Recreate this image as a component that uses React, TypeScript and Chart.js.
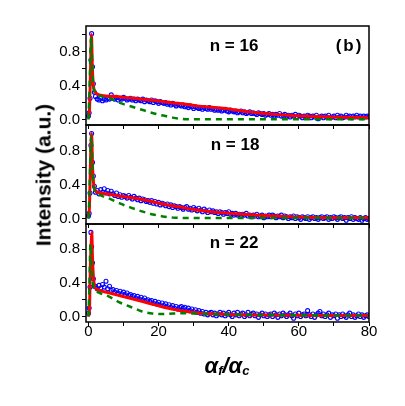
import React, { useEffect, useRef } from 'react';
import { Chart, registerables } from 'chart.js';

Chart.register(...registerables);

const FONT = '"Liberation Sans", Arial, Helvetica, sans-serif';

// ---- axes ----
const X_MIN = -0.7;
const X_MAX = 80;
const Y_MIN = -0.065;
const Y_MAX = 1.1;
const xTickValues = [0, 10, 20, 30, 40, 50, 60, 70, 80];
const xLabeledTicks = [0, 20, 40, 60, 80];
const yTickValues = [0, 0.2, 0.4, 0.6, 0.8, 1.0];
const yLabeledTicks = [0, 0.4, 0.8];

// ---- measured points (blue circles) ----
// x positions of the points around the specular peak
const peakX = [0, 0.2, 0.45, 0.7, 0.9, 1.15, 1.4, 1.7];
// the rest are sampled every 0.5 from x = 2 to x = 80
const TAIL_START = 2;
const TAIL_STEP = 0.5;

const blue16Peak = [0.04, 0.08, 0.25, 0.7, 1.01, 0.62, 0.42, 0.32];
const blue16Tail = [
  0.27, 0.24, 0.23, 0.25, 0.22, 0.24, 0.23, 0.25, 0.24, 0.29,
  0.25, 0.24, 0.26, 0.23, 0.25, 0.24, 0.26, 0.25, 0.23, 0.24,
  0.25, 0.23, 0.24, 0.22, 0.24, 0.23, 0.22, 0.24, 0.21, 0.23,
  0.22, 0.21, 0.23, 0.20, 0.22, 0.21, 0.19, 0.21, 0.20, 0.19,
  0.20, 0.18, 0.19, 0.17, 0.19, 0.18, 0.16, 0.18, 0.17, 0.16,
  0.17, 0.15, 0.16, 0.14, 0.16, 0.15, 0.13, 0.15, 0.14, 0.13,
  0.14, 0.12, 0.14, 0.13, 0.12, 0.14, 0.12, 0.13, 0.11, 0.12,
  0.11, 0.12, 0.10, 0.11, 0.12, 0.10, 0.09, 0.11, 0.10, 0.09,
  0.10, 0.08, 0.09, 0.10, 0.08, 0.09, 0.07, 0.08, 0.09, 0.07,
  0.08, 0.07, 0.06, 0.08, 0.07, 0.06, 0.07, 0.05, 0.06, 0.07,
  0.05, 0.06, 0.04, 0.06, 0.05, 0.07, 0.04, 0.05, 0.06, 0.04,
  0.05, 0.03, 0.05, 0.04, 0.06, 0.03, 0.05, 0.04, 0.02, 0.04,
  0.03, 0.05, 0.04, 0.02, 0.04, 0.03, 0.05, 0.01, 0.03, 0.04,
  0.02, 0.04, 0.03, 0.05, 0.02, 0.03, 0.04, 0.02, 0.05, 0.03,
  0.04, 0.02, 0.03, 0.05, 0.03, 0.04, 0.02, 0.04, 0.03, 0.05,
  0.03, 0.04, 0.02, 0.04, 0.03, 0.04, 0.03,
];

const blue18Peak = [0.03, 0.06, 0.3, 0.86, 1.0, 0.66, 0.5, 0.38];
const blue18Tail = [
  0.31, 0.33, 0.29, 0.34, 0.31, 0.35, 0.30, 0.33, 0.29, 0.32,
  0.29, 0.27, 0.30, 0.26, 0.28, 0.25, 0.27, 0.26, 0.24, 0.27,
  0.25, 0.23, 0.26, 0.24, 0.22, 0.24, 0.21, 0.23, 0.22, 0.20,
  0.21, 0.19, 0.21, 0.18, 0.20, 0.17, 0.19, 0.16, 0.18, 0.17,
  0.15, 0.17, 0.14, 0.16, 0.13, 0.15, 0.14, 0.12, 0.14, 0.13,
  0.11, 0.13, 0.14, 0.11, 0.12, 0.10, 0.13, 0.11, 0.09, 0.12,
  0.10, 0.08, 0.11, 0.09, 0.07, 0.10, 0.08, 0.09, 0.07, 0.08,
  0.06, 0.08, 0.07, 0.05, 0.07, 0.06, 0.08, 0.05, 0.06, 0.04,
  0.06, 0.04, 0.05, 0.03, 0.05, 0.04, 0.06, 0.03, 0.04, 0.02,
  0.04, 0.03, 0.05, 0.02, 0.03, 0.04, 0.01, 0.03, 0.02, 0.04,
  0.02, 0.04, 0.03, 0.01, 0.03, 0.02, 0.04, 0.01, 0.03, 0.02,
  0.00, 0.02, 0.01, 0.03, 0.00, 0.02, 0.01, -0.01, 0.02, 0.01,
  0.00, 0.02, -0.01, 0.01, 0.02, 0.00, 0.01, -0.01, 0.01, 0.02,
  0.00, 0.01, 0.02, -0.01, 0.01, 0.00, 0.02, 0.01, -0.01, 0.01,
  0.02, 0.00, 0.01, -0.02, 0.01, 0.00, 0.02, -0.01, 0.01, 0.00,
  -0.01, 0.01, -0.02, 0.00, 0.01, -0.01, 0.00,
];

const blue22Peak = [0.04, 0.1, 0.35, 1.0, 0.83, 0.64, 0.45, 0.36];
const blue22Tail = [
  0.36, 0.33, 0.37, 0.34, 0.38, 0.35, 0.42, 0.33, 0.36, 0.31,
  0.32, 0.29, 0.31, 0.28, 0.30, 0.27, 0.29, 0.26, 0.28, 0.25,
  0.26, 0.24, 0.25, 0.22, 0.24, 0.21, 0.23, 0.20, 0.22, 0.19,
  0.20, 0.18, 0.19, 0.16, 0.18, 0.15, 0.17, 0.14, 0.16, 0.13,
  0.15, 0.12, 0.14, 0.11, 0.13, 0.10, 0.12, 0.09, 0.11, 0.12,
  0.10, 0.11, 0.08, 0.10, 0.07, 0.09, 0.06, 0.08, 0.05, 0.07,
  0.04, 0.06, 0.03, 0.05, 0.02, 0.04, 0.05, 0.02, 0.04, 0.01,
  0.03, 0.05, 0.02, 0.04, 0.01, 0.03, 0.05, 0.02, 0.00, 0.04,
  0.02, 0.05, 0.01, 0.03, 0.04, 0.00, 0.02, 0.05, 0.01, 0.03,
  0.04, 0.01, 0.03, -0.01, 0.02, 0.04, 0.01, 0.03, 0.00, 0.02,
  0.03, 0.00, 0.04, 0.02, -0.01, 0.03, 0.01, 0.04, 0.02, 0.00,
  0.02, 0.04, 0.01, -0.02, 0.03, 0.01, 0.04, 0.00, 0.02, 0.03,
  0.01, 0.07, 0.02, 0.00, 0.03, -0.01, 0.02, 0.04, 0.06, 0.01,
  0.03, 0.00, 0.02, 0.04, -0.01, 0.02, 0.01, 0.03, -0.02, 0.02,
  0.00, 0.03, 0.01, -0.01, 0.02, 0.04, 0.00, 0.02, -0.01, 0.01,
  0.03, 0.00, 0.02, -0.01, 0.01, 0.02, 0.00,
];

// ---- fit (red solid) ----
const red16X = [0, 0.3, 0.6, 0.85, 1.1, 1.4, 1.8, 2.5, 3.5, 5, 8, 10, 14, 18, 22, 27, 31, 37, 41, 45, 48, 53, 58, 63, 67, 72, 80];
const red16Y = [0.03, 0.12, 0.6, 1.0, 0.62, 0.4, 0.33, 0.3, 0.285, 0.275, 0.27, 0.26, 0.245, 0.227, 0.205, 0.184, 0.16, 0.137, 0.118, 0.095, 0.078, 0.06, 0.047, 0.038, 0.031, 0.026, 0.02];

const red18X = [0, 0.3, 0.6, 0.9, 1.15, 1.45, 1.8, 2.2, 3, 5, 8, 10, 14, 18, 22, 26, 30, 35, 40, 45, 50, 55, 60, 65, 70, 80];
const red18Y = [0.02, 0.15, 0.7, 1.0, 0.62, 0.42, 0.34, 0.315, 0.305, 0.29, 0.27, 0.258, 0.235, 0.2, 0.165, 0.135, 0.105, 0.08, 0.062, 0.047, 0.035, 0.025, 0.016, 0.012, 0.01, 0.01];

const red22X = [0, 0.3, 0.55, 0.8, 0.95, 1.15, 1.4, 1.7, 2.1, 3, 4.5, 6, 8.3, 10.5, 13, 15.5, 17.8, 20, 22.5, 25, 27.3, 30, 32, 37, 40, 50, 60, 70, 80];
const red22Y = [0.0, 0.1, 0.6, 0.88, 1.0, 0.7, 0.48, 0.37, 0.334, 0.315, 0.295, 0.28, 0.256, 0.232, 0.205, 0.178, 0.152, 0.128, 0.101, 0.08, 0.063, 0.05, 0.04, 0.03, 0.025, 0.018, 0.015, 0.013, 0.012];

// ---- component (green dashed) ----
const green16X = [0, 0.3, 0.6, 0.85, 1.1, 1.4, 1.8, 2.5, 3.5, 5, 6, 8, 9, 10, 12, 14, 16, 18, 20, 22, 24, 26, 28, 30, 40, 50, 60, 70, 80];
const green16Y = [0, 0.35, 0.85, 0.97, 0.6, 0.4, 0.32, 0.29, 0.275, 0.26, 0.25, 0.215, 0.195, 0.18, 0.155, 0.13, 0.105, 0.08, 0.058, 0.04, 0.022, 0.01, 0.004, 0.003, 0.003, 0.003, 0.003, 0.003, 0.003];

const green18X = [0, 0.3, 0.6, 0.9, 1.15, 1.45, 1.8, 2.2, 3, 4.5, 6, 8.8, 11.7, 15, 18.4, 21.2, 24.2, 27, 30, 40, 50, 60, 70, 80];
const green18Y = [0, 0.3, 0.85, 0.97, 0.6, 0.4, 0.33, 0.3, 0.28, 0.255, 0.233, 0.18, 0.134, 0.087, 0.047, 0.024, 0.01, 0.006, 0.005, 0.005, 0.006, 0.006, 0.006, 0.006];

const green22X = [0, 0.3, 0.55, 0.75, 0.95, 1.2, 1.5, 2.0, 3.0, 4.5, 5.9, 7.3, 8.7, 10.4, 12.1, 13.6, 15.1, 16.6, 18.2, 21.1, 24.2, 27.1, 30, 35, 40, 50, 60, 70, 80];
const green22Y = [0, 0.4, 0.86, 0.75, 0.55, 0.42, 0.35, 0.31, 0.284, 0.26, 0.237, 0.205, 0.171, 0.142, 0.113, 0.087, 0.063, 0.047, 0.035, 0.03, 0.035, 0.04, 0.035, 0.03, 0.025, 0.018, 0.015, 0.013, 0.012];

// ---- panel labels ----
const panelLabels = ['n = 16', 'n = 18', 'n = 22'];
const figureTag = '(b)';

type Pt = { x: number; y: number };
const pairs = (xs: number[], ys: number[]): Pt[] => xs.map((x, i) => ({ x, y: ys[i] }));
const measured = (peak: number[], tail: number[]): Pt[] =>
  pairs(peakX, peak).concat(tail.map((y, i) => ({ x: TAIL_START + i * TAIL_STEP, y })));

const W = 405;
const H = 406;
const PLOT_LEFT = 86;
const PLOT_RIGHT = 369;
const XAXIS_H = 20;

const panels = [
  { top: 26, bottom: 125, blue: measured(blue16Peak, blue16Tail), red: pairs(red16X, red16Y), green: pairs(green16X, green16Y), showX: false },
  { top: 125, bottom: 224, blue: measured(blue18Peak, blue18Tail), red: pairs(red18X, red18Y), green: pairs(green18X, green18Y), showX: false },
  { top: 224, bottom: 322, blue: measured(blue22Peak, blue22Tail), red: pairs(red22X, red22Y), green: pairs(green22X, green22Y), showX: true },
];

const framePlugin = {
  id: 'panelFrame',
  afterDraw(chart: any) {
    const { ctx, chartArea } = chart;
    ctx.save();
    ctx.strokeStyle = '#000';
    ctx.lineWidth = 1.5;
    ctx.strokeRect(chartArea.left, chartArea.top, chartArea.right - chartArea.left, chartArea.bottom - chartArea.top);
    ctx.restore();
  },
};

function Panel({ p }: { p: (typeof panels)[number] }) {
  const ref = useRef<HTMLCanvasElement>(null);
  useEffect(() => {
    const chart = new Chart(ref.current as HTMLCanvasElement, {
      type: 'line',
      data: {
        datasets: [
          {
            data: p.green,
            borderColor: '#008000',
            borderWidth: 2.5,
            borderDash: [6, 5],
            pointRadius: 0,
            fill: false,
            cubicInterpolationMode: 'monotone',
          },
          {
            data: p.red,
            borderColor: '#ff0000',
            borderWidth: 3,
            pointRadius: 0,
            fill: false,
            cubicInterpolationMode: 'monotone',
          },
          {
            data: p.blue,
            showLine: false,
            pointStyle: 'circle',
            pointRadius: 2,
            pointBorderWidth: 1.1,
            pointBorderColor: '#0000ff',
            pointBackgroundColor: 'rgba(255,255,255,0)',
          },
        ] as any,
      },
      options: {
        animation: false,
        responsive: false,
        devicePixelRatio: 1,
        events: [],
        layout: {
          autoPadding: false,
          padding: { left: 0, right: W - PLOT_RIGHT, top: p.top, bottom: H - p.bottom - XAXIS_H },
        },
        plugins: { legend: { display: false }, tooltip: { enabled: false }, title: { display: false } },
        scales: {
          x: {
            type: 'linear',
            min: X_MIN,
            max: X_MAX,
            afterBuildTicks: (s: any) => {
              s.ticks = xTickValues.map((v) => ({ value: v }));
            },
            afterFit: (s: any) => {
              s.height = XAXIS_H;
              s.paddingLeft = 0;
              s.paddingRight = 0;
            },
            grid: { display: true, drawOnChartArea: false, drawTicks: true, tickLength: 4, color: '#000', lineWidth: 1 },
            border: { display: false },
            ticks: {
              autoSkip: false,
              maxRotation: 0,
              minRotation: 0,
              padding: -2,
              color: '#000',
              font: { family: FONT, size: 15, lineHeight: 1 },
              callback: (v: any) => (p.showX && xLabeledTicks.includes(Number(v)) ? String(v) : ''),
            },
          },
          y: {
            type: 'linear',
            min: Y_MIN,
            max: Y_MAX,
            afterBuildTicks: (s: any) => {
              s.ticks = yTickValues.map((v) => ({ value: v }));
            },
            afterFit: (s: any) => {
              s.width = PLOT_LEFT;
              s.paddingTop = 0;
              s.paddingBottom = 0;
            },
            grid: { display: true, drawOnChartArea: false, drawTicks: true, tickLength: 4, color: '#000', lineWidth: 1 },
            border: { display: false },
            ticks: {
              padding: 2,
              color: '#000',
              font: { family: FONT, size: 15, lineHeight: 1 },
              callback: (v: any) => {
                const n = Number(v);
                return yLabeledTicks.some((t) => Math.abs(t - n) < 1e-9) ? n.toFixed(1) : '';
              },
            },
          },
        },
      } as any,
      plugins: [framePlugin],
    });
    return () => chart.destroy();
  }, [p]);
  return (
    <canvas
      ref={ref}
      width={W}
      height={H}
      style={{ position: 'absolute', left: 0, top: 0, width: W, height: H }}
    />
  );
}

const labelCenters = [
  { x: 234, y: 44.5 },
  { x: 235, y: 143.5 },
  { x: 234, y: 241.5 },
];

export default function App() {
  const base: React.CSSProperties = {
    position: 'absolute',
    fontFamily: FONT,
    color: '#000',
    whiteSpace: 'nowrap',
  };
  return (
    <div style={{ position: 'absolute', left: 0, top: 0, width: W, height: H, background: '#fff', overflow: 'hidden' }}>
      {panels.map((p, i) => (
        <Panel key={i} p={p} />
      ))}
      {panelLabels.map((t, i) => (
        <div
          key={t}
          style={{
            ...base,
            left: labelCenters[i].x,
            top: labelCenters[i].y,
            transform: 'translate(-50%, -50%)',
            fontSize: 17,
            fontWeight: 'bold',
            lineHeight: '17px',
          }}
        >
          {t}
        </div>
      ))}
      <div
        style={{
          ...base,
          left: 349.5,
          top: 44.5,
          transform: 'translate(-50%, -50%)',
          fontSize: 17,
          fontWeight: 'bold',
          lineHeight: '17px',
          letterSpacing: '2px',
        }}
      >
        {figureTag}
      </div>
      <div
        style={{
          ...base,
          left: 42.5,
          top: 175,
          transform: 'translate(-50%, -50%) rotate(-90deg)',
          fontSize: 21,
          fontWeight: 'bold',
          lineHeight: '21px',
        }}
      >
        Intensity (a.u.)
      </div>
      <div
        style={{
          ...base,
          left: 227,
          top: 355,
          transform: 'translateX(-50%)',
          fontSize: 22,
          fontWeight: 'bold',
          fontStyle: 'italic',
          lineHeight: '22px',
        }}
      >
        α<span style={{ fontSize: 13, verticalAlign: '-2px' }}>f</span>/α
        <span style={{ fontSize: 13, verticalAlign: '-2px' }}>c</span>
      </div>
    </div>
  );
}
